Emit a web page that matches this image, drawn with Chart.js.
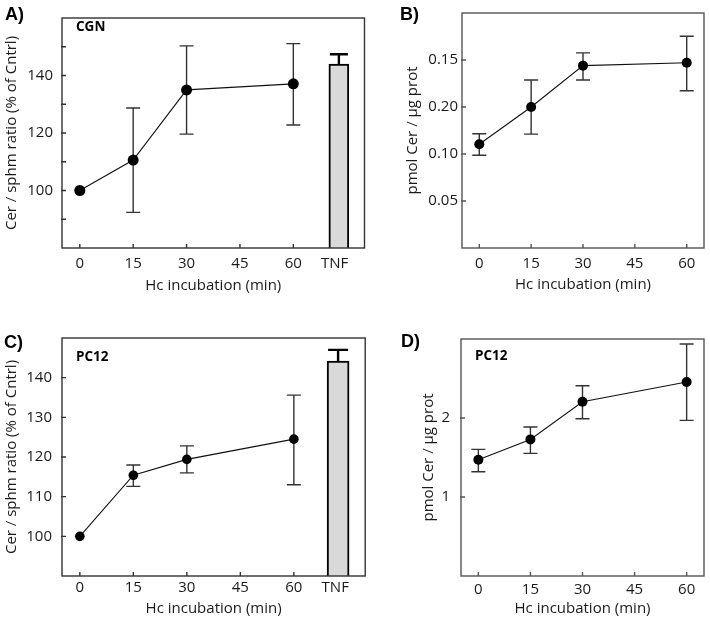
<!DOCTYPE html>
<html><head><meta charset="utf-8">
<script src="https://cdn.jsdelivr.net/npm/chart.js@4.4.1/dist/chart.umd.min.js"></script>
<style>
html,body{margin:0;padding:0;background:#fff;}
#wrap{position:relative;width:710px;height:622px;overflow:hidden;background:#fff;}
canvas{position:absolute;}
.lbl{position:absolute;font-family:"Liberation Sans",Arial,sans-serif;font-weight:bold;font-size:18px;line-height:1;color:#000;white-space:nowrap;}
.cell{position:absolute;font-family:"Open Sans",sans-serif;font-weight:bold;font-size:13.5px;line-height:1;color:#000;white-space:nowrap;}
</style></head><body>
<div id="wrap">
<canvas id="cA" width="370" height="300" style="left:0;top:0"></canvas>
<canvas id="cB" width="340" height="300" style="left:370px;top:0"></canvas>
<canvas id="cC" width="370" height="317" style="left:0;top:305px"></canvas>
<canvas id="cD" width="340" height="317" style="left:370px;top:305px"></canvas>
<div class="lbl" style="left:5px;top:5px">A)</div>
<div class="lbl" style="left:400px;top:5px">B)</div>
<div class="lbl" style="left:4px;top:333px">C)</div>
<div class="lbl" style="left:401px;top:332px">D)</div>
<div class="cell" style="left:76px;top:20px">CGN</div>
<div class="cell" style="left:76px;top:350px">PC12</div>
<div class="cell" style="left:475px;top:349px">PC12</div>
</div>
<script>
// ---------- data ----------
const timesMin = [0, 15, 30, 60];
const xTickValues = [0, 15, 30, 45, 60];
const xTickLabels = ['0', '15', '30', '45', '60'];
const tnfLabel = 'TNF';

// A) CGN, Cer / sphm ratio (% of Cntrl)
const cgnRatio = [100, 110.6, 135.0, 137.1];
const cgnRatioLow = [null, 92.4, 119.6, 122.8];
const cgnRatioHigh = [null, 128.7, 150.3, 151.1];
const cgnTnf = 144.0;
const cgnTnfHigh = 147.4;
const ratioTicksA = [90, 100, 110, 120, 130, 140, 150];
const ratioLabelsA = ['', '100', '', '120', '', '140', ''];

// B) CGN, pmol Cer / ug prot (tick labels as printed)
const cgnCer = [0.1104, 0.150, 0.194, 0.197];
const cgnCerLow = [0.0986, 0.1211, 0.1788, 0.1673];
const cgnCerHigh = [0.1215, 0.1788, 0.2076, 0.2253];
const cerTicksB = [0.05, 0.10, 0.15, 0.20];
const cerLabelsB = ['0.05', '0.10', '0.20', '0.15'];

// C) PC12, Cer / sphm ratio (% of Cntrl)
const pc12Ratio = [100, 115.4, 119.4, 124.5];
const pc12RatioLow = [null, 112.6, 116.0, 113.0];
const pc12RatioHigh = [null, 118.0, 122.8, 135.6];
const pc12Tnf = 144.2;
const pc12TnfHigh = 147.0;
const ratioTicksC = [100, 110, 120, 130, 140];
const ratioLabelsC = ['100', '110', '120', '130', '140'];

// D) PC12, pmol Cer / ug prot
const pc12Cer = [1.472, 1.729, 2.206, 2.456];
const pc12CerLow = [1.32, 1.552, 1.991, 1.97];
const pc12CerHigh = [1.603, 1.886, 2.409, 2.937];
const cerTicksD = [1, 2];
const cerLabelsD = ['1', '2'];

// ---------- drawing ----------
const TXT = '#1a1a1a';
const FONT = {family: "'Open Sans', sans-serif", size: 15};

const decor = {
  id: 'decor',
  beforeDatasetsDraw(chart) {
    const p = chart.options.plugins.decor;
    const xs = chart.scales.x, ys = chart.scales.y, ctx = chart.ctx;
    ctx.save();
    ctx.strokeStyle = p.errColor; ctx.lineWidth = 1.4;
    p.x.forEach((t, i) => {
      if (p.low[i] == null) return;
      const px = xs.getPixelForValue(t);
      const y1 = ys.getPixelForValue(p.low[i]), y2 = ys.getPixelForValue(p.high[i]);
      ctx.beginPath();
      ctx.moveTo(px, y1); ctx.lineTo(px, y2);
      ctx.moveTo(px - p.cap, y1); ctx.lineTo(px + p.cap, y1);
      ctx.moveTo(px - p.cap, y2); ctx.lineTo(px + p.cap, y2);
      ctx.stroke();
    });
    if (p.tnf != null) {
      const px = xs.getPixelForValue(p.tnfX);
      const y1 = ys.getPixelForValue(p.tnf), y2 = ys.getPixelForValue(p.tnfHigh);
      ctx.strokeStyle = '#000'; ctx.lineWidth = 2.4;
      ctx.beginPath();
      ctx.moveTo(px, y1); ctx.lineTo(px, y2);
      ctx.moveTo(px - p.tnfCap, y2); ctx.lineTo(px + p.tnfCap, y2);
      ctx.stroke();
    }
    ctx.restore();
  },
  afterDatasetsDraw(chart) {
    const p = chart.options.plugins.decor;
    const a = chart.chartArea, xs = chart.scales.x, ys = chart.scales.y, ctx = chart.ctx;
    ctx.save();
    ctx.strokeStyle = p.boxColor; ctx.lineWidth = 1.4;
    ctx.strokeRect(a.left, a.top, a.right - a.left, a.bottom - a.top);
    ctx.beginPath();
    p.xMarks.forEach(v => { const px = xs.getPixelForValue(v); ctx.moveTo(px, a.bottom); ctx.lineTo(px, a.bottom - 4); });
    p.yMarks.forEach(v => { const py = ys.getPixelForValue(v); ctx.moveTo(a.left - 1, py); ctx.lineTo(a.left + 4, py); });
    ctx.stroke();
    ctx.restore();
  }
};

function makePanel(id, s) {
  const xt = s.tnf != null ? xTickValues.concat([s.tnfLabelX]) : xTickValues;
  const xl = s.tnf != null ? xTickLabels.concat([tnfLabel]) : xTickLabels;
  const datasets = [{
    type: 'line',
    data: timesMin.map((t, i) => ({x: t, y: s.y[i]})),
    borderColor: '#111', borderWidth: 1.1,
    pointRadius: s.r, pointBackgroundColor: '#000', pointBorderWidth: 0,
    fill: false, tension: 0
  }];
  if (s.tnf != null) {
    datasets.push({
      type: 'bar',
      data: [{x: s.tnfX, y: s.tnf}],
      backgroundColor: '#d9d9d9', borderColor: '#000', borderWidth: 2,
      borderSkipped: false, barThickness: s.barW
    });
  }
  new Chart(document.getElementById(id), {
    type: 'line',
    data: {datasets},
    options: {
      responsive: false, animation: false, events: [],
      layout: {padding: s.pad},
      plugins: {
        legend: {display: false}, tooltip: {enabled: false},
        decor: {x: timesMin, low: s.low, high: s.high, cap: 7, errColor: '#333',
          tnf: s.tnf, tnfHigh: s.tnfHigh, tnfX: s.tnfX, tnfCap: s.barW / 2 - 1,
          boxColor: s.boxColor, xMarks: xTickValues, yMarks: s.yTicks}
      },
      scales: {
        x: {
          type: 'linear', min: s.xMin, max: s.xMax, offset: false,
          afterBuildTicks: sc => { sc.ticks = xt.map(v => ({value: v})); },
          afterFit: sc => { sc.height = s.xH; },
          grid: {display: false, drawTicks: false}, border: {display: false},
          ticks: {autoSkip: false, maxRotation: 0, minRotation: 0, padding: s.xTickPad, color: TXT, font: FONT,
            callback: v => xl[xt.indexOf(v)]},
          title: {display: true, text: 'Hc incubation (min)', color: TXT, font: FONT, padding: {top: 0, bottom: s.xTitlePad}}
        },
        y: {
          type: 'linear', min: s.yMin, max: s.yMax,
          afterBuildTicks: sc => { sc.ticks = s.yTicks.map(v => ({value: v})); },
          afterFit: sc => { sc.width = s.yW; },
          grid: {display: false, drawTicks: false}, border: {display: false},
          ticks: {autoSkip: false, padding: s.yTickPad, color: TXT, font: FONT,
            callback: v => s.yLabels[s.yTicks.indexOf(v)]},
          title: {display: true, text: s.yTitle, color: TXT, font: FONT, padding: {top: s.yTitlePad, bottom: 0}}
        }
      }
    },
    plugins: [decor]
  });
}

const ratioTitle = 'Cer / sphm ratio (% of Cntrl)';
const cerTitle = 'pmol Cer / \u00b5g prot';

makePanel('cA', {
  y: cgnRatio, low: cgnRatioLow, high: cgnRatioHigh, tnf: cgnTnf, tnfHigh: cgnTnfHigh,
  tnfX: 72.8, tnfLabelX: 71.6, barW: 20,
  xMin: -5, xMax: 80, yMin: 80, yMax: 160, yTicks: ratioTicksA, yLabels: ratioLabelsA,
  pad: {top: 10, right: 2, left: 0, bottom: 0}, yW: 62, xH: 52,
  xTickPad: 6.5, xTitlePad: 5, yTickPad: 9, yTitlePad: 3, yTitle: ratioTitle,
  r: 5.5, boxColor: '#333'
});
makePanel('cB', {
  y: cgnCer, low: cgnCerLow, high: cgnCerHigh, tnf: null,
  xMin: -5, xMax: 65, yMin: 0, yMax: 0.25, yTicks: cerTicksB, yLabels: cerLabelsB,
  pad: {top: 10, right: 6, left: 0, bottom: 0}, yW: 92, xH: 52,
  xTickPad: 6.5, xTitlePad: 6, yTickPad: 4, yTitlePad: 34, yTitle: cerTitle,
  r: 5, boxColor: '#555'
});
makePanel('cC', {
  y: pc12Ratio, low: pc12RatioLow, high: pc12RatioHigh, tnf: pc12Tnf, tnfHigh: pc12TnfHigh,
  tnfX: 72.4, tnfLabelX: 71.6, barW: 22,
  xMin: -5, xMax: 80, yMin: 90, yMax: 150, yTicks: ratioTicksC, yLabels: ratioLabelsC,
  pad: {top: 33, right: 2, left: 0, bottom: 0}, yW: 62, xH: 46,
  xTickPad: 2.8, xTitlePad: 4, yTickPad: 10, yTitlePad: 2.5, yTitle: ratioTitle,
  r: 4.8, boxColor: '#333'
});
makePanel('cD', {
  y: pc12Cer, low: pc12CerLow, high: pc12CerHigh, tnf: null,
  xMin: -5, xMax: 65, yMin: 0, yMax: 3, yTicks: cerTicksD, yLabels: cerLabelsD,
  pad: {top: 34, right: 6, left: 0, bottom: 0}, yW: 91, xH: 46,
  xTickPad: 4.8, xTitlePad: 4.3, yTickPad: 11, yTitlePad: 50, yTitle: cerTitle,
  r: 5, boxColor: '#555'
});
</script>
</body></html>
